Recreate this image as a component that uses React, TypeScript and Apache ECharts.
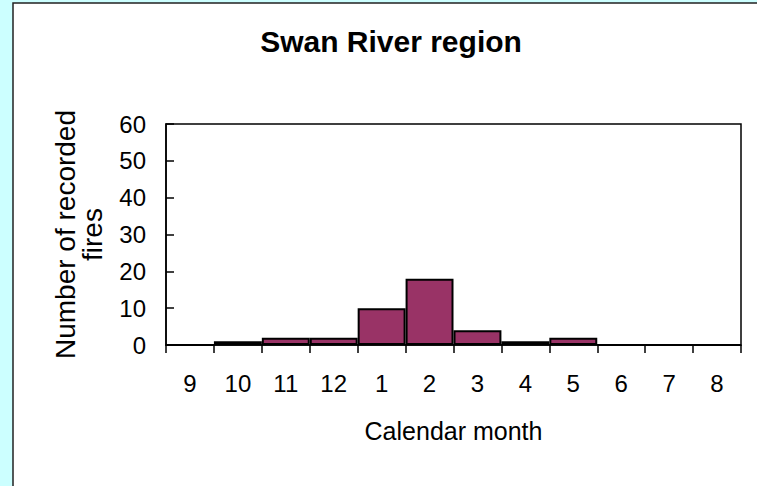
import React, { useEffect, useRef } from "react";
import * as echarts from "echarts";

const months = ["9", "10", "11", "12", "1", "2", "3", "4", "5", "6", "7", "8"];
const fires = [0, 1, 2, 2, 10, 18, 4, 1, 2, 0, 0, 0];
const yTicks = { min: 0, max: 60, interval: 10 };

export default function App() {
  const ref = useRef<HTMLDivElement>(null);
  useEffect(() => {
    document.body.style.margin = "0";
    const chart = echarts.init(ref.current!, null, { renderer: "svg" });
    const font = "Liberation Sans, Arial, sans-serif";
    chart.setOption({
      animation: false,
      backgroundColor: "#ccffff",
      graphic: [
        {
          type: "rect",
          z: -10,
          silent: true,
          shape: { x: 13, y: 3, width: 760, height: 500 },
          style: { fill: "#ffffff", stroke: "#222222", lineWidth: 1.5 },
        },
      ],
      title: {
        text: "Swan River region",
        left: 386,
        top: 21,
        textAlign: "center",
        textStyle: { fontFamily: font, fontSize: 30, fontWeight: "bold", color: "#000" },
      },
      grid: {
        left: 166,
        right: 16,
        top: 124,
        bottom: 141,
        show: true,
        borderColor: "#000",
        borderWidth: 1.5,
        backgroundColor: "#fff",
      },
      xAxis: {
        type: "category",
        data: months,
        name: "Calendar month",
        nameLocation: "middle",
        nameGap: 73,
        nameTextStyle: { fontFamily: font, fontSize: 25, color: "#000" },
        axisLine: { show: true, lineStyle: { color: "#000", width: 1.5 } },
        axisTick: { show: true, interval: 0, length: 8, lineStyle: { color: "#000", width: 1.5 } },
        axisLabel: { interval: 0, margin: 26, fontFamily: font, fontSize: 24, color: "#000" },
      },
      yAxis: {
        type: "value",
        min: yTicks.min,
        max: yTicks.max,
        interval: yTicks.interval,
        name: "Number of recorded\nfires",
        nameLocation: "middle",
        nameRotate: 90,
        nameGap: 60,
        nameTextStyle: { fontFamily: font, fontSize: 28, color: "#000", lineHeight: 27 },
        splitLine: { show: false },
        axisLine: { show: true, lineStyle: { color: "#000", width: 1.5 } },
        axisTick: { show: true, inside: true, length: 8, lineStyle: { color: "#000", width: 1.5 } },
        axisLabel: { margin: 20, fontFamily: font, fontSize: 24, color: "#000" },
      },
      series: [
        {
          type: "bar",
          data: fires,
          barCategoryGap: "0%",
          itemStyle: { color: "#993366", borderColor: "#000", borderWidth: 2 },
        },
      ],
    });
    return () => chart.dispose();
  }, []);
  return <div ref={ref} style={{ width: 757, height: 486 }} />;
}
